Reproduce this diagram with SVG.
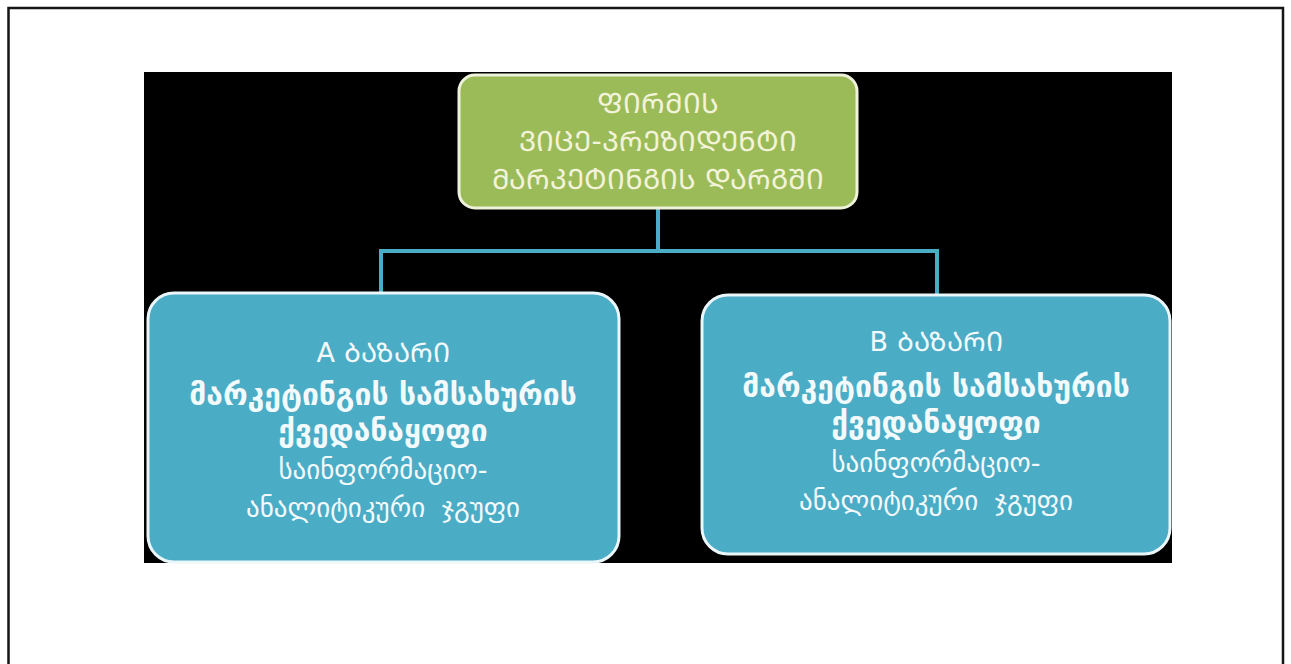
<svg xmlns="http://www.w3.org/2000/svg" width="1291" height="664" viewBox="0 0 1291 664">
  <style>
    .geo { font-family: "DejaVu Sans", "Noto Sans", sans-serif; text-anchor: middle; }
    .top-txt { fill: #F3F3DA; font-size: 28px; }
    .box-txt { fill: #F2FAFC; font-size: 27px; }
    .bold { font-weight: bold; font-size: 30px; }
    .wide { word-spacing: 8px; }
    .link { fill: none; stroke: #4BACC6; stroke-width: 4; }
  </style>

  <!-- page -->
  <rect x="0" y="0" width="1291" height="664" fill="#FFFFFF"/>
  <path d="M8.5,664 V8 H1283 V664" fill="none" stroke="#151515" stroke-width="2.5"/>

  <!-- slide backdrop -->
  <rect x="144" y="72" width="1028" height="491" fill="#000000"/>

  <!-- connectors -->
  <g id="connectors">
    <path class="link" d="M658,208 V251"/>
    <path class="link" d="M381,294 V251 H937 V296"/>
  </g>

  <!-- top: vice-president -->
  <g id="node-vp">
    <rect x="459" y="75" width="398" height="133" rx="16" fill="#9BBB59" stroke="#EEF2DA" stroke-width="3"/>
    <text class="geo top-txt" x="658" y="113">ᲤᲘᲠᲛᲘᲡ</text>
    <text class="geo top-txt" x="658" y="151">ᲕᲘᲪᲔ-ᲞᲠᲔᲖᲘᲓᲔᲜᲢᲘ</text>
    <text class="geo top-txt" x="658" y="189">ᲛᲐᲠᲙᲔᲢᲘᲜᲒᲘᲡ ᲓᲐᲠᲒᲨᲘ</text>
  </g>

  <!-- market A -->
  <g id="node-market-a">
    <rect x="148" y="293" width="471" height="269" rx="26" fill="#4BACC6" stroke="#EAF6F9" stroke-width="3"/>
    <text class="geo box-txt" x="383" y="362">A ᲑᲐᲖᲐᲠᲘ</text>
    <text class="geo box-txt bold" x="383" y="405">მარკეტინგის სამსახურის</text>
    <text class="geo box-txt bold" x="383" y="441">ქვედანაყოფი</text>
    <text class="geo box-txt" x="383" y="479">საინფორმაციო-</text>
    <text class="geo box-txt wide" x="383" y="517">ანალიტიკური ჯგუფი</text>
  </g>

  <!-- market B -->
  <g id="node-market-b">
    <rect x="702" y="295" width="468" height="259" rx="26" fill="#4BACC6" stroke="#EAF6F9" stroke-width="3"/>
    <text class="geo box-txt" x="936" y="351">B ᲑᲐᲖᲐᲠᲘ</text>
    <text class="geo box-txt bold" x="936" y="397">მარკეტინგის სამსახურის</text>
    <text class="geo box-txt bold" x="936" y="433">ქვედანაყოფი</text>
    <text class="geo box-txt" x="936" y="472">საინფორმაციო-</text>
    <text class="geo box-txt wide" x="936" y="510">ანალიტიკური ჯგუფი</text>
  </g>
</svg>
